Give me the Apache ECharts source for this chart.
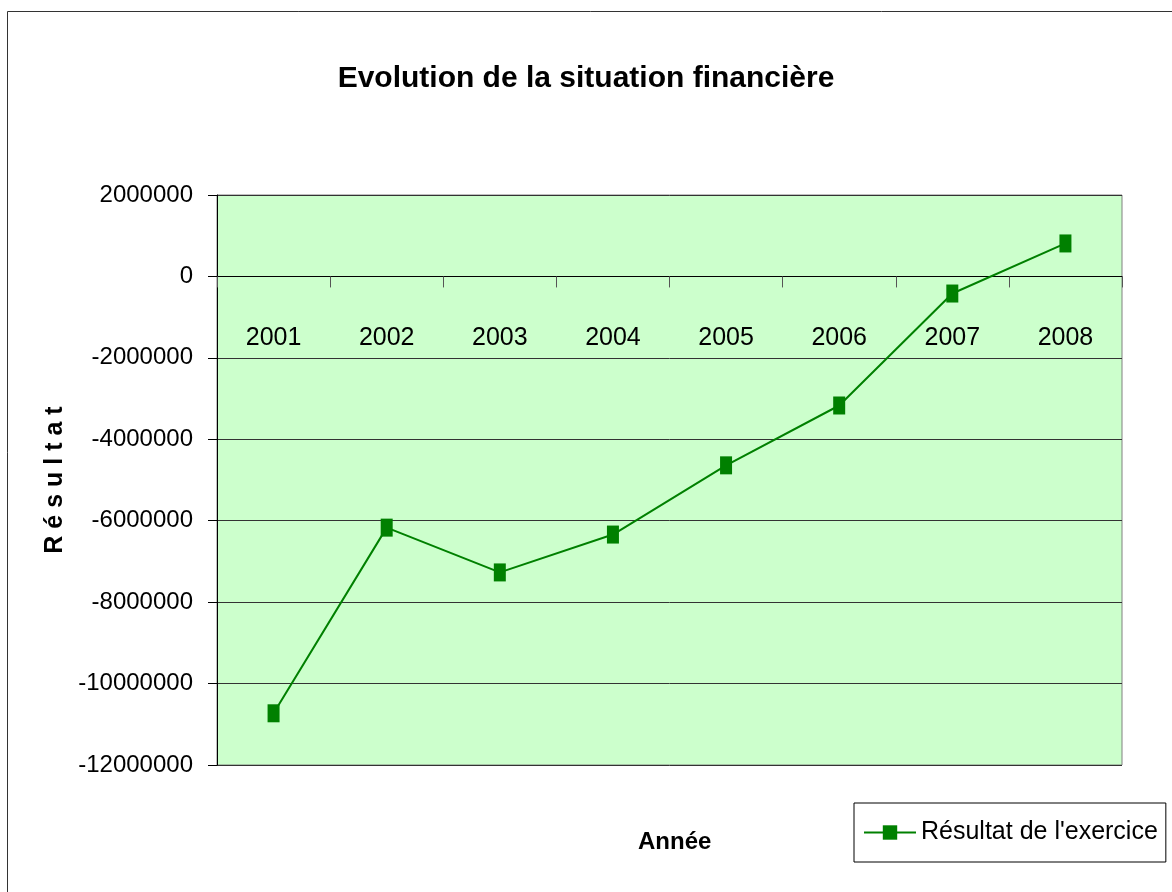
<!DOCTYPE html>
<html lang="fr">
<head>
    <meta charset="UTF-8">
    <title>Evolution de la situation financière</title>
    <script src="https://cdn.jsdelivr.net/npm/echarts@6/dist/echarts.min.js"></script>
    <style>
        body { margin: 0; background: #fff; }
    </style>
</head>
<body>

<div id="chart_wrap" style="width: 1172px; height: 892px;"></div>

<script>
    var years = ["2001", "2002", "2003", "2004", "2005", "2006", "2007", "2008"];
    var resultat = [-10730000, -6170000, -7270000, -6340000, -4640000, -3170000, -420000, 810000];
    var yMin = -12000000;
    var yMax = 2000000;
    var yStep = 2000000;

    var font = "'Liberation Sans', Arial, sans-serif";

    var chart = echarts.init(document.getElementById("chart_wrap"));

    var option = {
        backgroundColor: '#ffffff',
        animation: false,
        title: [
            {
                text: 'Evolution de la situation financière',
                left: 'center',
                top: 59,
                textStyle: { fontFamily: font, fontSize: 30, fontWeight: 'bold', color: '#000' }
            },
            {
                text: 'Année',
                left: 633,
                top: 825,
                textStyle: { fontFamily: font, fontSize: 24, fontWeight: 'bold', color: '#000' }
            }
        ],
        graphic: [
            {
                type: 'rect',
                shape: { x: 7.5, y: 11.5, width: 1200, height: 900 },
                style: { fill: null, stroke: '#333', lineWidth: 1 },
                silent: true
            }
        ],
        legend: {
            data: ["Résultat de l'exercice"],
            left: 854,
            top: 803,
            orient: 'horizontal',
            borderColor: '#000',
            borderWidth: 1,
            padding: [17, 8, 17, 9],
            itemWidth: 52,
            itemHeight: 18,
            textStyle: { fontFamily: font, fontSize: 25, color: '#000' }
        },
        grid: {
            left: 217,
            top: 195,
            right: 50,
            bottom: 127,
            show: true,
            backgroundColor: '#CCFFCC',
            borderColor: '#808080',
            borderWidth: 1,
            containLabel: false,
            outerBoundsMode: 'none'
        },
        xAxis: {
            type: 'category',
            data: years,
            boundaryGap: true,
            offset: 0,
            axisLine: { onZero: false, lineStyle: { color: '#000', width: 1 } },
            axisTick: { show: true, interval: 0, length: 11, lineStyle: { color: '#555' } },
            axisLabel: { margin: 49, interval: 0, fontFamily: font, fontSize: 25, color: '#000' },
            splitLine: { show: false }
        },
        yAxis: {
            type: 'value',
            min: yMin,
            max: yMax,
            interval: yStep,
            name: 'R é s u l t a t',
            nameLocation: 'middle',
            nameRotate: 90,
            nameGap: 148,
            nameTextStyle: { fontFamily: font, fontSize: 25, fontWeight: 'bold', color: '#000' },
            axisLine: { show: true, lineStyle: { color: '#000', width: 1 } },
            axisTick: { show: true, length: 9, lineStyle: { color: '#000' } },
            axisLabel: {
                margin: 24,
                fontFamily: font,
                fontSize: 24,
                color: '#000',
                formatter: function (v) { return String(v); }
            },
            splitLine: { show: true, lineStyle: { color: '#333', width: 1 } }
        },
        series: [
            {
                name: "Résultat de l'exercice",
                type: 'line',
                data: resultat,
                symbol: 'rect',
                symbolSize: [12, 18],
                lineStyle: { color: '#008000', width: 2 },
                itemStyle: { color: '#008000' },
                z: 5
            }
        ]
    };

    chart.setOption(option);

    // move the category axis (line, ticks and labels) up to the zero value, as in the sheet
    var zeroY = chart.convertToPixel({ yAxisIndex: 0 }, 0);
    var bottomY = chart.convertToPixel({ yAxisIndex: 0 }, yMin);
    chart.setOption({ xAxis: { offset: zeroY - bottomY } });
</script>
</body>
</html>
